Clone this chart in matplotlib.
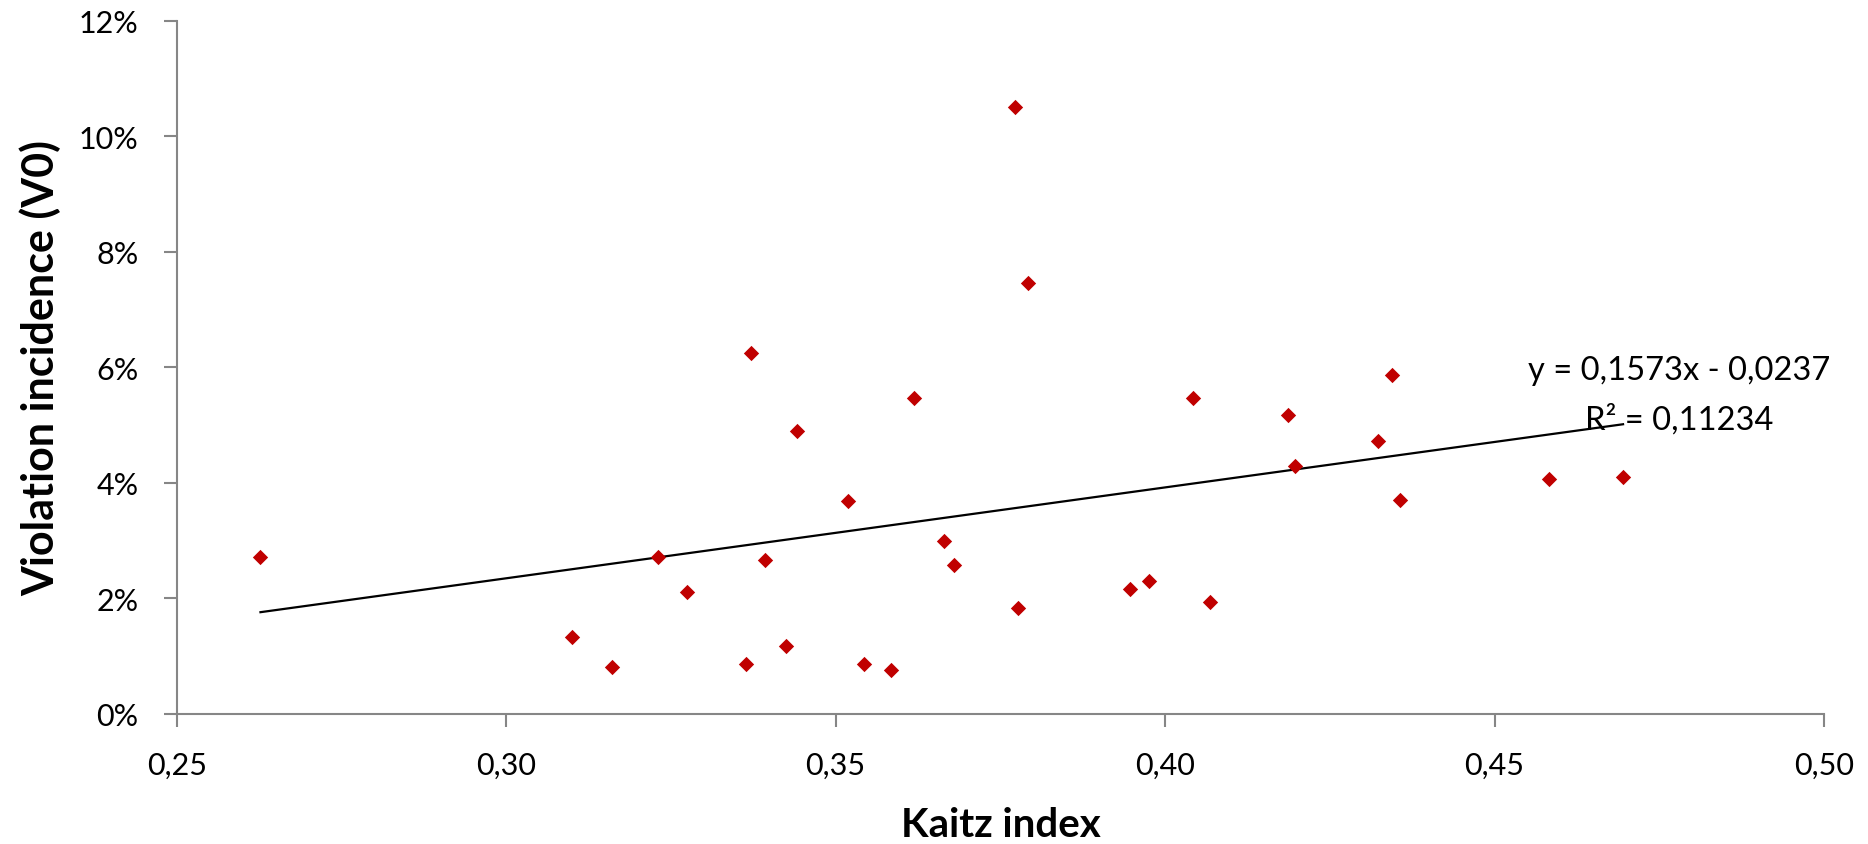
#Scatter of violation incidence against the Kaitz index, with a linear trend line
import matplotlib
matplotlib.use('Agg')
import matplotlib.pyplot as plt
import numpy as np

plt.rcParams['font.family'] = ['Lato', 'DejaVu Sans']

#Data (Kaitz index, violation incidence in %)
kaitz = [0.2627, 0.3100, 0.3161, 0.3230, 0.3275, 0.3364, 0.3371, 0.3392, 0.3425, 0.3441,
         0.3518, 0.3543, 0.3584, 0.3619, 0.3664, 0.3680, 0.3772, 0.3777, 0.3792, 0.3947,
         0.3975, 0.4043, 0.4068, 0.4186, 0.4197, 0.4323, 0.4344, 0.4356, 0.4582, 0.4695]
violation = [2.72, 1.33, 0.81, 2.72, 2.12, 0.86, 6.25, 2.67, 1.18, 4.90,
             3.69, 0.86, 0.77, 5.47, 2.99, 2.58, 10.50, 1.83, 7.46, 2.16,
             2.30, 5.47, 1.93, 5.17, 4.30, 4.72, 5.87, 3.70, 4.07, 4.11]

#Trend line as printed on the chart
slope = 0.1573
intercept = -0.0237
r_squared = '0,11234'

x_ticks = [0.25, 0.30, 0.35, 0.40, 0.45, 0.50]
y_ticks = [0, 2, 4, 6, 8, 10, 12]

axis_grey = '#868686'

fig = plt.figure(figsize=(18.68, 8.45), dpi=100)
ax = fig.add_axes([176.8/1868, 1-715/845, (1824-176.8)/1868, (715-21.7)/845])

ax.scatter(kaitz, violation, marker='D', s=7.8**2, color='#C00000', linewidths=0, zorder=3)

#Trend line from the smallest to the largest x
xs = np.array([min(kaitz), max(kaitz)])
ax.plot(xs, (slope*xs + intercept)*100, color='black', linewidth=1.6, zorder=2)

ax.text(0.4780, 5.80, 'y = 0,1573x - 0,0237', ha='center', va='baseline', fontsize=23.5)
ax.text(0.4780, 4.935, 'R² = ' + r_squared, ha='center', va='baseline', fontsize=23.5)

ax.set_xlim(0.25, 0.50)
ax.set_ylim(0, 12)
ax.set_xticks(x_ticks)
ax.set_xticklabels([('%.2f' % v).replace('.', ',') for v in x_ticks])
ax.set_yticks(y_ticks)
ax.set_yticklabels(['%d%%' % v for v in y_ticks])

for side in ['top', 'right']:
    ax.spines[side].set_visible(False)
for side in ['left', 'bottom']:
    ax.spines[side].set_color(axis_grey)
    ax.spines[side].set_linewidth(1.5)
ax.tick_params(axis='both', direction='out', length=9.5, width=1.5, color=axis_grey,
               labelsize=22, labelcolor='black')
ax.tick_params(axis='y', pad=18)
ax.tick_params(axis='x', pad=17)

fig.text(1000.5/1868, 1-837/845, 'Kaitz index', ha='center', va='baseline',
         fontsize=29, fontweight='bold')
fig.text(40/1868, 1-368/845, 'Violation incidence (V0)', ha='center', va='center',
         rotation=90, fontsize=31, fontweight='bold')

fig.savefig('out.png', dpi=100)
